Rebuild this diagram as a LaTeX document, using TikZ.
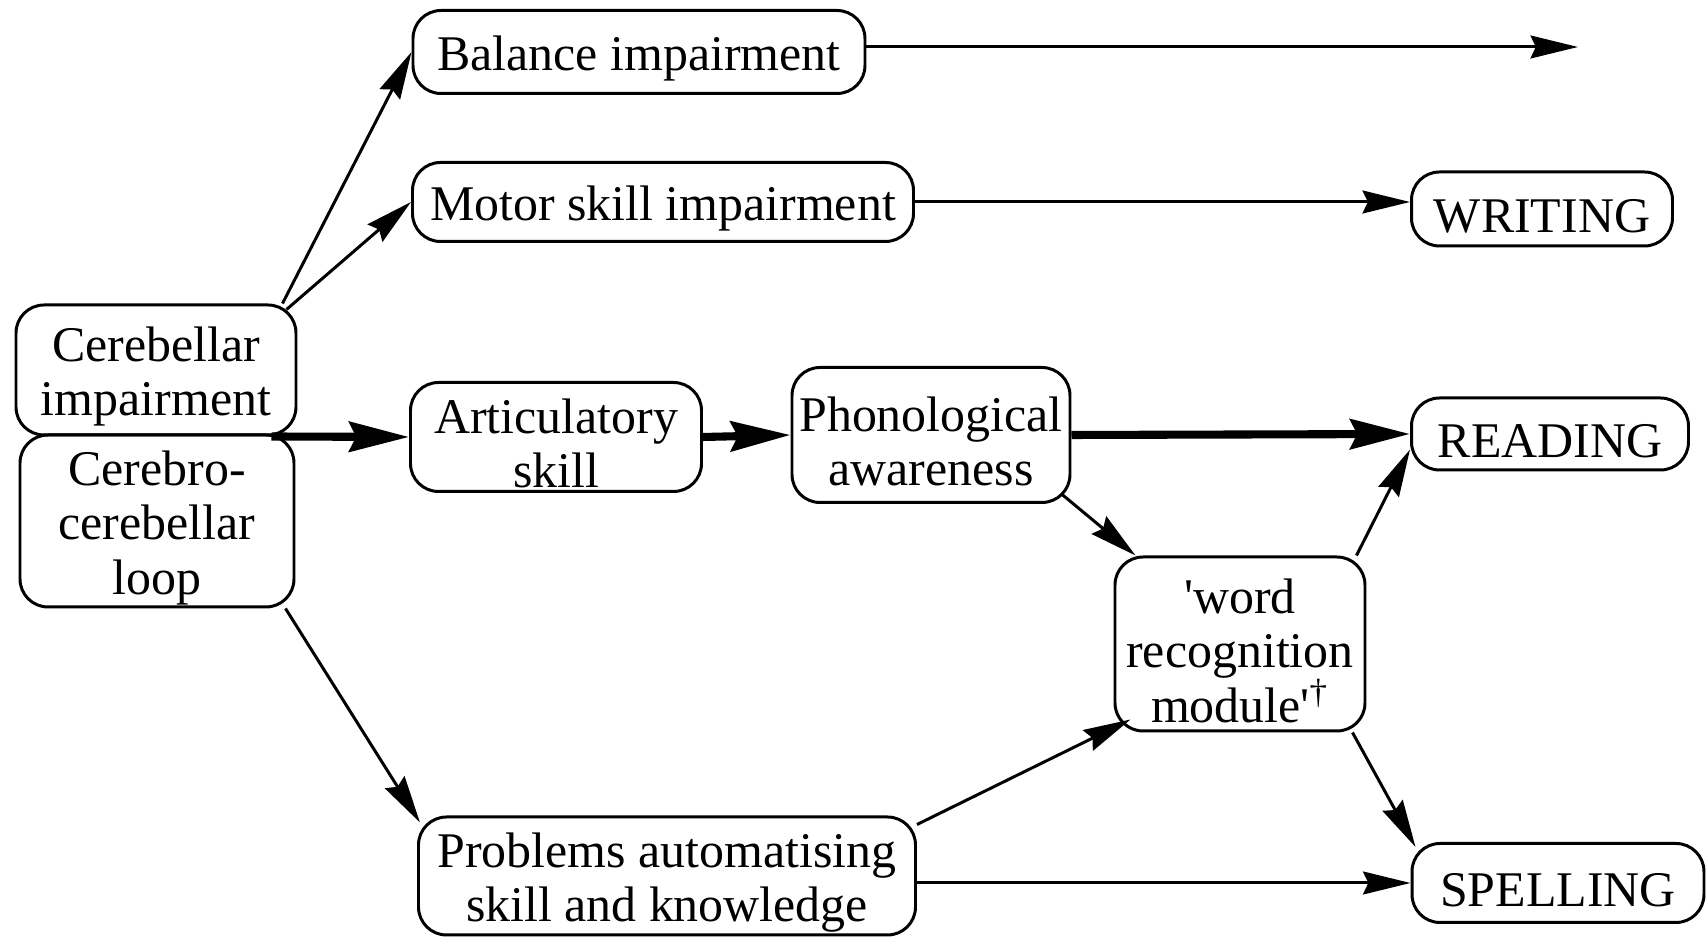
\documentclass[tikz,border=0pt]{standalone}
\usepackage{fontspec}
\setmainfont{Liberation Serif}
\usetikzlibrary{arrows.meta}
\newcommand{\boxstrut}{\rule{0pt}{4.8mm}}
\begin{document}
\begin{tikzpicture}[x=0.1mm, y=-0.1mm,
		box/.style={draw=black, line width=0.85pt, rounded corners=2.8mm, inner sep=0pt, align=center, font=\fontsize{14.2}{15.5}\selectfont},
		thin/.style={line width=0.85pt, -{Stealth[length=13.5pt, width=6.5pt, inset=1.5pt]}},
		thick/.style={line width=2.3pt, -{Stealth[length=17pt, width=8.5pt, inset=2pt]}}]
		\useasboundingbox (0,0) rectangle (1706,938);
		\node[box, minimum width=45.2mm, minimum height=8.3mm] (bal) at (639,52) {\boxstrut Balance impairment};
		\node[box, minimum width=50.1mm, minimum height=7.9mm] (motor) at (663,202) {\boxstrut Motor skill impairment};
		\node[box, minimum width=26.1mm, minimum height=7.4mm] (writing) at (1542,209) {\boxstrut WRITING};
		\node[box, minimum width=28mm, minimum height=13mm] (cereb) at (156,370) {\boxstrut Cerebellar\\impairment};
		\node[box, minimum width=27.4mm, minimum height=17.2mm] (loop) at (157,521) {\boxstrut Cerebro-\\cerebellar\\loop};
		\node[box, minimum width=29.1mm, minimum height=10.9mm] (artic) at (556,437) {\boxstrut Articulatory\\skill};
		\node[box, minimum width=27.8mm, minimum height=13.5mm] (phono) at (931,435) {\boxstrut Phonological\\awareness};
		\node[box, minimum width=27.7mm, minimum height=7.2mm] (reading) at (1550,434) {\boxstrut READING};
		\node[box, minimum width=25mm, minimum height=17.4mm] (word) at (1240,644) {\boxstrut\textquotesingle word\\recognition\\module\textquotesingle\textsuperscript{\dag}};
		\node[box, minimum width=49.7mm, minimum height=11.8mm] (probs) at (667,876) {\boxstrut Problems automatising\\skill and knowledge};
		\node[box, minimum width=29.2mm, minimum height=7.9mm] (spelling) at (1558,883) {\boxstrut SPELLING};
		\coordinate (balend) at (1578,47);
		\draw[thin] (bal.east |- balend) -- (balend);
		\draw[thin] ([xshift=-1.5mm]cereb.north east) -- (bal.west);
		\draw[thin] ([xshift=-1.1mm,yshift=-0.6mm]cereb.north east) -- (motor.west);
		\draw[thin] (motor.east) -- (motor.east -| writing.west);
		\draw[thick] ([xshift=-2.6mm]cereb.south east) -- (artic.west);
		\draw[thick] (artic.east) -- (phono.west);
		\draw[thick] (phono.east) -- (reading.west);
		\draw[thin] ([xshift=-1mm,yshift=1mm]phono.south east) -- ([xshift=2.2mm]word.north west);
		\draw[thin] ([xshift=-1mm]word.north east) -- ([yshift=2.2mm]reading.south west);
		\draw[thin] ([xshift=-1.4mm]word.south east) -- ([xshift=0.5mm,yshift=-0.5mm]spelling.north west);
		\draw[thin] ([xshift=-1mm]loop.south east) -- ([xshift=0.3mm,yshift=-0.7mm]probs.north west);
		\draw[thin] ([yshift=-0.9mm]probs.north east) -- ([xshift=1.7mm,yshift=1.3mm]word.south west);
		\draw[thin] (spelling.west -| probs.east) -- (spelling.west);
	\end{tikzpicture}
\end{document}
